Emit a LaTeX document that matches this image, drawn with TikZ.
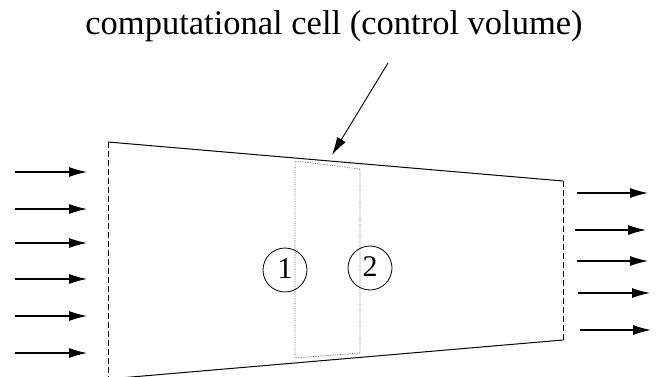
\documentclass[tikz,border=0pt]{standalone}
\usepackage{fontspec}
\setmainfont{Liberation Serif}
\usetikzlibrary{arrows.meta}

\begin{document}
\begin{tikzpicture}[
        x=1pt, y=-1pt,
        wall/.style={line width=1pt},
        inlet/.style={line width=1pt, dash pattern=on 6pt off 3pt},
        cell/.style={line width=0.7pt, densely dotted, black!65},
        flow/.style={line width=1.1pt, -{Latex[length=18pt,width=10pt]}},
        probe/.style={draw, circle, line width=0.8pt, minimum size=44pt,
            inner sep=0pt, font=\fontsize{30}{30}\selectfont},
        every path/.style={line width=0.6pt}
    ]

    \useasboundingbox (0,0) rectangle (656,377);

    % duct corners
    \coordinate (tl) at (108,142);
    \coordinate (tr) at (563,181);
    \coordinate (br) at (563,340);
    \coordinate (bl) at (108,379);

    \draw[wall] (tl) -- (tr);
    \draw[wall] (bl) -- (br);
    \draw[inlet] (tl) -- (bl);
    \draw[inlet] (tr) -- (br);

    % control volume
    \coordinate (c1) at (295,161);
    \coordinate (c2) at (360,169);
    \coordinate (c3) at (360,353);
    \coordinate (c4) at (295,358);
    \draw[cell] (c1) -- (c2) -- (c3) -- (c4) -- cycle;

    \node[probe] (p1) at (285,270) {\raisebox{2pt}{1}\hspace{6pt}};
    \node[probe] (p2) at (370,268) {\raisebox{2pt}{2}\hspace{8pt}};

    % incoming flow
    \foreach \y [count=\i] in {172,209,243,279,316,353} {
        \coordinate (in\i a) at (15,\y);
        \coordinate (in\i b) at (87,\y);
        \draw[flow] (in\i a) -- (in\i b);
    }

    % outgoing flow
    \foreach \xa/\xb/\y [count=\i] in {577/648/193, 575/646/230, 577/648/261,
                                      578/650/293, 580/651/330} {
        \coordinate (out\i a) at (\xa,\y);
        \coordinate (out\i b) at (\xb,\y);
        \draw[flow] (out\i a) -- (out\i b);
    }

    \node[font=\fontsize{34.5}{34.5}\selectfont] (title) at (334,26)
        {computational cell (control volume)};

    \coordinate (ptr) at (388,63);
    \coordinate (hit) at (332,155);
    \draw[line width=0.9pt, -{Latex[length=18pt,width=10pt]}] (ptr) -- (hit);

\end{tikzpicture}
\end{document}
